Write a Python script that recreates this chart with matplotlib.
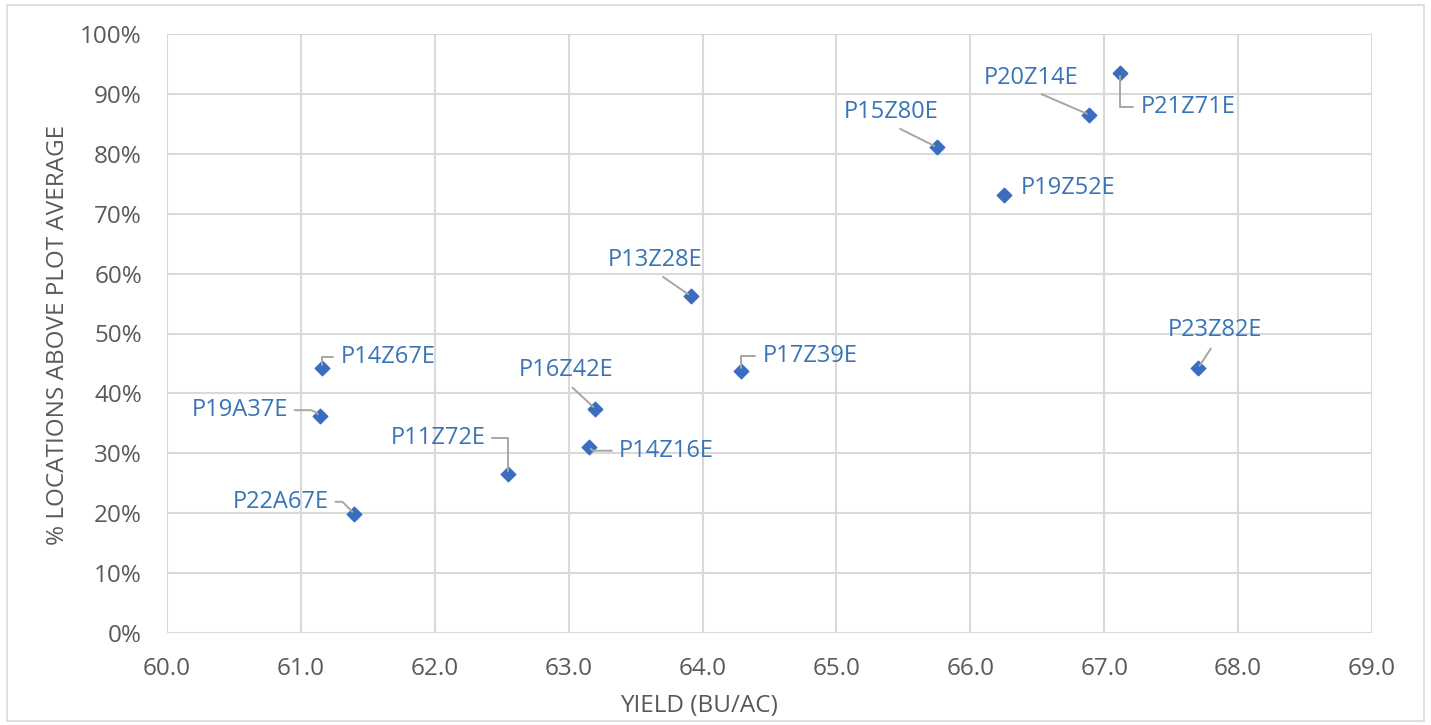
import matplotlib
matplotlib.use("Agg")
import matplotlib.pyplot as plt
from matplotlib.patches import Rectangle
from matplotlib.ticker import PercentFormatter, FormatStrFormatter

plt.rcParams["font.family"] = ["Open Sans", "DejaVu Sans"]

# data
hybrids = ["P21Z71E", "P20Z14E", "P15Z80E", "P19Z52E", "P13Z28E", "P23Z82E", "P17Z39E",
           "P14Z67E", "P19A37E", "P16Z42E", "P14Z16E", "P11Z72E", "P22A67E"]
yield_bu = [67.12, 66.89, 65.75, 66.25, 63.91, 67.70, 64.29,
            61.16, 61.14, 63.20, 63.15, 62.55, 61.40]
pct_above = [93.5, 86.5, 81.1, 73.1, 56.3, 44.2, 43.7,
             44.2, 36.2, 37.4, 31.1, 26.5, 19.9]

# label placement: offset in pixels (y up), alignment, leader anchor, leader style
label_pos = {
    "P21Z71E": ((20, -34), "left", (0, 0.5), "angle,angleA=0,angleB=90,rad=0"),
    "P20Z14E": ((-58, 37), "center", (0.5, 0), None),
    "P15Z80E": ((-46, 35), "center", (0.5, 0), None),
    "P19Z52E": ((17, 7), "left", None, None),
    "P13Z28E": ((-35, 36), "center", (0.5, 0), None),
    "P23Z82E": ((17, 38), "center", (0.5, 0), None),
    "P17Z39E": ((21, 15), "left", (0, 0.5), "angle,angleA=0,angleB=90,rad=0"),
    "P14Z67E": ((18, 11), "left", (0, 0.5), "angle,angleA=0,angleB=90,rad=0"),
    "P19A37E": ((-32, 6), "right", (1, 0.5), "angle,angleA=0,angleB=135,rad=4"),
    "P16Z42E": ((-29, 39), "center", (0.5, 0), None),
    "P14Z16E": ((30, -4), "left", (0, 0.5), "angle,angleA=0,angleB=-45,rad=0"),
    "P11Z72E": ((-23, 36), "right", (1, 0.5), "angle,angleA=0,angleB=90,rad=0"),
    "P22A67E": ((-26, 12), "right", (1, 0.5), "angle,angleA=0,angleB=135,rad=0"),
}

fig = plt.figure(figsize=(14.31, 7.25), dpi=100)
ax = fig.add_axes([167 / 1431, 1 - 633 / 725, (1372 - 167) / 1431, (633 - 34) / 725])

grey = "#595959"
blue_txt = "#3874b6"
blue_mk = "#3a6dbf"

ax.scatter(yield_bu, pct_above, marker="D", s=55, color=blue_mk, zorder=5)

for name, x, y in zip(hybrids, yield_bu, pct_above):
    (dx, dy), ha, rel, conn = label_pos[name]
    kw = {}
    if rel is not None:
        ap = dict(arrowstyle="-", color="#a6a6a6", lw=1.4, shrinkA=3, shrinkB=2, relpos=rel)
        if conn:
            ap["connectionstyle"] = conn
        kw["arrowprops"] = ap
    ax.annotate(name, xy=(x, y), xytext=(dx, dy), textcoords="offset pixels",
                ha=ha, va="center", fontsize=17, color=blue_txt, zorder=6, **kw)

ax.set_xlim(60, 69)
ax.set_ylim(0, 100)
ax.set_xticks(range(60, 70))
ax.set_yticks(range(0, 101, 10))
ax.xaxis.set_major_formatter(FormatStrFormatter("%.1f"))
ax.yaxis.set_major_formatter(PercentFormatter(decimals=0))
ax.tick_params(length=0, labelsize=17.5, labelcolor=grey)
ax.tick_params(axis="y", pad=18)
ax.tick_params(axis="x", pad=17)
ax.grid(True, color="#d9d9d9", lw=1.5)
ax.set_axisbelow(True)
for sp in ax.spines.values():
    sp.set_visible(False)

fig.text(699 / 1431, 1 - 706 / 725, "YIELD (BU/AC)", ha="center", va="center",
         fontsize=17.5, color=grey)
fig.text(58 / 1431, 1 - 335 / 725, "% LOCATIONS ABOVE PLOT AVERAGE", ha="center",
         va="center", rotation=90, fontsize=17.5, color=grey)

fig.patches.append(Rectangle((7 / 1431, 4 / 725), 1417 / 1431, 716 / 725,
                             transform=fig.transFigure, fill=False,
                             edgecolor="#d9d9d9", lw=1.2))

fig.savefig("out.png", dpi=100)
